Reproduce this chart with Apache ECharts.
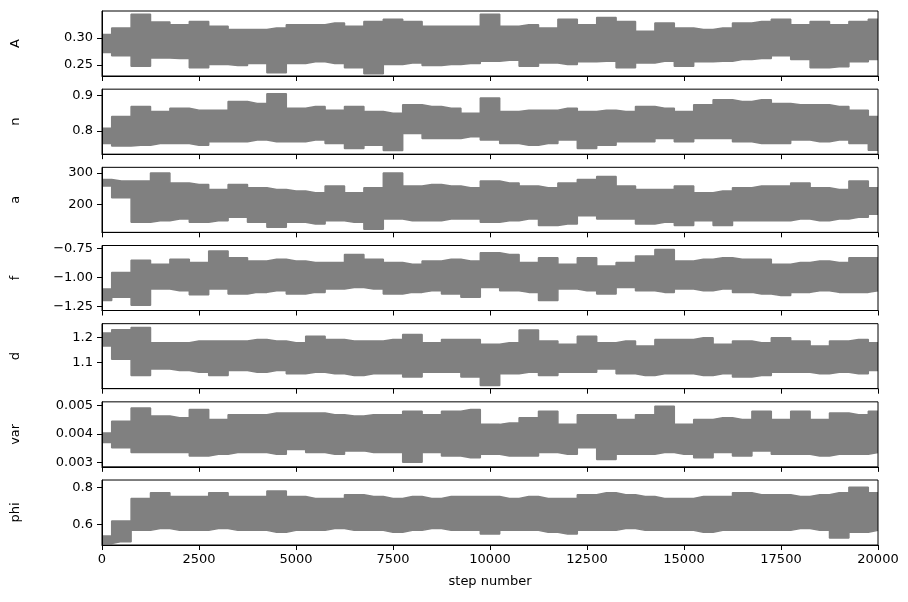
<!DOCTYPE html>
<html>
<head>
<meta charset="utf-8">
<script src="https://cdn.jsdelivr.net/npm/echarts@6/dist/echarts.min.js"></script>
<style>
  html, body { margin: 0; padding: 0; background: #fff; }
  #chain { width: 908px; height: 602px; }
</style>
</head>
<body>
<div id="chain"></div>
<script>
const steps = [0, 500, 1000, 1500, 2000, 2500, 3000, 3500, 4000, 4500, 5000, 5500, 6000, 6500, 7000, 7500, 8000, 8500, 9000, 9500,
    10000, 10500, 11000, 11500, 12000, 12500, 13000, 13500, 14000, 14500, 15000, 15500, 16000, 16500, 17000, 17500, 18000, 18500, 19000, 19500, 20000]
const params = ["A", "n", "a", "f", "d", "var", "phi"]

// upper / lower edge of the gray band of all walkers
const A_hi = [0.306, 0.318, 0.343, 0.329, 0.324, 0.330, 0.321, 0.315, 0.315, 0.318, 0.324, 0.324, 0.327, 0.321, 0.330, 0.334, 0.330, 0.321, 0.321, 0.321,
    0.343, 0.321, 0.324, 0.318, 0.334, 0.324, 0.337, 0.330, 0.312, 0.327, 0.318, 0.315, 0.318, 0.327, 0.330, 0.334, 0.324, 0.330, 0.324, 0.330, 0.334]
const A_lo = [0.273, 0.267, 0.248, 0.263, 0.262, 0.245, 0.251, 0.249, 0.253, 0.236, 0.253, 0.256, 0.253, 0.245, 0.234, 0.251, 0.254, 0.249, 0.251, 0.253,
    0.257, 0.259, 0.248, 0.254, 0.251, 0.256, 0.257, 0.245, 0.254, 0.257, 0.248, 0.256, 0.257, 0.260, 0.262, 0.267, 0.260, 0.245, 0.247, 0.256, 0.260]
const n_hi = [0.808, 0.841, 0.869, 0.855, 0.864, 0.859, 0.859, 0.883, 0.878, 0.905, 0.864, 0.869, 0.859, 0.869, 0.855, 0.850, 0.874, 0.869, 0.864, 0.850,
    0.893, 0.855, 0.859, 0.859, 0.864, 0.855, 0.859, 0.855, 0.869, 0.864, 0.855, 0.874, 0.888, 0.883, 0.888, 0.878, 0.874, 0.874, 0.869, 0.859, 0.841]
const n_lo = [0.765, 0.758, 0.760, 0.765, 0.765, 0.760, 0.770, 0.770, 0.775, 0.770, 0.770, 0.775, 0.765, 0.751, 0.760, 0.745, 0.793, 0.779, 0.779, 0.784,
    0.775, 0.765, 0.760, 0.765, 0.775, 0.751, 0.760, 0.770, 0.770, 0.779, 0.770, 0.779, 0.779, 0.770, 0.765, 0.765, 0.775, 0.770, 0.775, 0.765, 0.746]
const a_hi = [279, 274, 274, 300, 268, 263, 247, 263, 253, 247, 242, 237, 258, 237, 253, 300, 258, 263, 258, 253,
    274, 268, 258, 253, 268, 279, 289, 258, 247, 247, 258, 237, 242, 253, 258, 258, 268, 253, 247, 274, 253]
const a_lo = [258, 221, 142, 147, 153, 142, 147, 158, 142, 126, 142, 137, 147, 142, 120, 153, 147, 147, 153, 153,
    142, 147, 153, 132, 137, 163, 153, 153, 137, 142, 132, 147, 132, 147, 147, 147, 153, 147, 153, 158, 168]
const f_hi = [-1.100, -0.957, -0.850, -0.886, -0.843, -0.871, -0.770, -0.829, -0.857, -0.843, -0.857, -0.871, -0.871, -0.800, -0.843, -0.871, -0.886, -0.857, -0.843, -0.857,
    -0.786, -0.800, -0.871, -0.829, -0.886, -0.829, -0.900, -0.871, -0.814, -0.757, -0.857, -0.843, -0.829, -0.843, -0.843, -0.886, -0.871, -0.857, -0.871, -0.829, -0.829]
const f_lo = [-1.200, -1.171, -1.240, -1.100, -1.114, -1.150, -1.100, -1.143, -1.129, -1.114, -1.143, -1.129, -1.100, -1.086, -1.100, -1.143, -1.129, -1.114, -1.143, -1.171,
    -1.086, -1.114, -1.129, -1.200, -1.100, -1.114, -1.143, -1.086, -1.114, -1.129, -1.100, -1.114, -1.100, -1.129, -1.143, -1.157, -1.129, -1.114, -1.129, -1.129, -1.114]
const d_hi = [1.218, 1.231, 1.240, 1.179, 1.179, 1.186, 1.186, 1.186, 1.192, 1.186, 1.179, 1.205, 1.192, 1.186, 1.186, 1.192, 1.212, 1.179, 1.192, 1.192,
    1.173, 1.179, 1.230, 1.186, 1.173, 1.205, 1.179, 1.186, 1.166, 1.192, 1.192, 1.199, 1.173, 1.186, 1.179, 1.199, 1.186, 1.166, 1.186, 1.192, 1.179]
const d_lo = [1.166, 1.114, 1.049, 1.075, 1.069, 1.062, 1.049, 1.069, 1.062, 1.069, 1.056, 1.062, 1.056, 1.049, 1.056, 1.056, 1.043, 1.062, 1.062, 1.043,
    1.010, 1.056, 1.062, 1.049, 1.062, 1.062, 1.075, 1.056, 1.049, 1.056, 1.056, 1.049, 1.056, 1.043, 1.049, 1.062, 1.062, 1.056, 1.062, 1.056, 1.069]
const var_hi = [0.00403, 0.00444, 0.00490, 0.00462, 0.00456, 0.00485, 0.00450, 0.00467, 0.00467, 0.00473, 0.00473, 0.00473, 0.00467, 0.00462, 0.00467, 0.00467, 0.00479, 0.00467, 0.00479, 0.00485,
    0.00433, 0.00438, 0.00456, 0.00479, 0.00433, 0.00467, 0.00467, 0.00450, 0.00467, 0.00497, 0.00433, 0.00450, 0.00456, 0.00450, 0.00479, 0.00450, 0.00479, 0.00450, 0.00473, 0.00467, 0.00479]
const var_lo = [0.00369, 0.00351, 0.00334, 0.00334, 0.00334, 0.00322, 0.00328, 0.00334, 0.00334, 0.00328, 0.00345, 0.00334, 0.00328, 0.00340, 0.00334, 0.00334, 0.00300, 0.00334, 0.00322, 0.00316,
    0.00328, 0.00322, 0.00322, 0.00334, 0.00328, 0.00351, 0.00310, 0.00328, 0.00328, 0.00334, 0.00328, 0.00316, 0.00334, 0.00322, 0.00340, 0.00328, 0.00328, 0.00322, 0.00328, 0.00328, 0.00334]
const phi_hi = [0.54, 0.62, 0.74, 0.77, 0.75, 0.75, 0.77, 0.75, 0.75, 0.78, 0.75, 0.74, 0.74, 0.76, 0.75, 0.74, 0.75, 0.74, 0.75, 0.75,
    0.75, 0.74, 0.75, 0.74, 0.74, 0.76, 0.77, 0.76, 0.75, 0.74, 0.74, 0.75, 0.75, 0.77, 0.76, 0.76, 0.75, 0.76, 0.77, 0.80, 0.77]
const phi_lo = [0.50, 0.51, 0.57, 0.58, 0.57, 0.57, 0.58, 0.57, 0.57, 0.56, 0.57, 0.57, 0.58, 0.57, 0.57, 0.56, 0.57, 0.58, 0.57, 0.57,
    0.55, 0.57, 0.57, 0.56, 0.55, 0.57, 0.57, 0.58, 0.57, 0.57, 0.57, 0.56, 0.57, 0.57, 0.57, 0.57, 0.58, 0.57, 0.53, 0.56, 0.57]

// y tick labels per panel
const yTicks = [
    [0.25, 0.30],
    [0.8, 0.9],
    [200, 300],
    [-1.25, -1.00, -0.75],
    [1.1, 1.2],
    [0.003, 0.004, 0.005],
    [0.6, 0.8],
]
const yDecimals = [2, 1, 0, 2, 1, 3, 1]
const yRange = [[0.230, 0.349], [0.735, 0.918], [110, 318], [-1.286, -0.723], [0.997, 1.255], [0.00284, 0.00512], [0.492, 0.838]]

const highs = [A_hi, n_hi, a_hi, f_hi, d_hi, var_hi, phi_hi]
const lows = [A_lo, n_lo, a_lo, f_lo, d_lo, var_lo, phi_lo]

const FONT = "DejaVu Sans"
const GRAY = "#808080"

let myChart = echarts.init(document.getElementById("chain"))

let grid = [], xAxis = [], yAxis = [], series = []
params.forEach((name, i) => {
    let last = i === params.length - 1
    // frame drawn above the series
    grid.push({
        left: 102, right: 30, top: 11 + i * 78.17, height: 65,
        show: true, borderColor: "#000", borderWidth: 1, backgroundColor: "transparent",
        z: 10, outerBoundsMode: "none",
    })
    // a tick every 5th step = 2500
    xAxis.push({
        gridIndex: i, type: "category", boundaryGap: false, z: 10,
        data: steps.map(String),
        splitLine: { show: false },
        axisLine: { lineStyle: { color: "#000", width: 1 } },
        axisTick: { show: true, length: 5, interval: 4, lineStyle: { color: "#000" } },
        axisLabel: { show: last, interval: 4, color: "#000", fontFamily: FONT, fontSize: 13, margin: 8 },
        name: last ? "step number" : "",
        nameLocation: "middle", nameGap: 30,
        nameTextStyle: { color: "#000", fontFamily: FONT, fontSize: 13 },
    })
    yAxis.push({
        gridIndex: i, type: "value", min: yRange[i][0], max: yRange[i][1], z: 10,
        splitLine: { show: false },
        axisLine: { show: true, lineStyle: { color: "#000", width: 1 } },
        axisTick: { show: true, length: 5, customValues: yTicks[i], lineStyle: { color: "#000" } },
        axisLabel: {
            color: "#000", fontFamily: FONT, fontSize: 13, margin: 9,
            customValues: yTicks[i],
            formatter: (v) => v.toFixed(yDecimals[i]).replace("-", "\u2212"),
        },
        name: name, nameLocation: "middle", nameRotate: 90, nameGap: 80,
        nameTextStyle: { color: "#000", fontFamily: FONT, fontSize: 13 },
    })
    // gray from the top edge down to the bottom, then white below the lower edge
    series.push({
        type: "line", xAxisIndex: i, yAxisIndex: i,
        step: "middle", symbol: "none", silent: true,
        lineStyle: { color: GRAY, width: 1.5 },
        areaStyle: { color: GRAY, opacity: 1, origin: "start" },
        data: highs[i],
    })
    series.push({
        type: "line", xAxisIndex: i, yAxisIndex: i,
        step: "middle", symbol: "none", silent: true,
        lineStyle: { color: GRAY, width: 1.5 },
        areaStyle: { color: "#fff", opacity: 1, origin: "start" },
        data: lows[i],
    })
})

myChart.setOption({
    animation: false,
    grid, xAxis, yAxis, series,
})
</script>
</body>
</html>
